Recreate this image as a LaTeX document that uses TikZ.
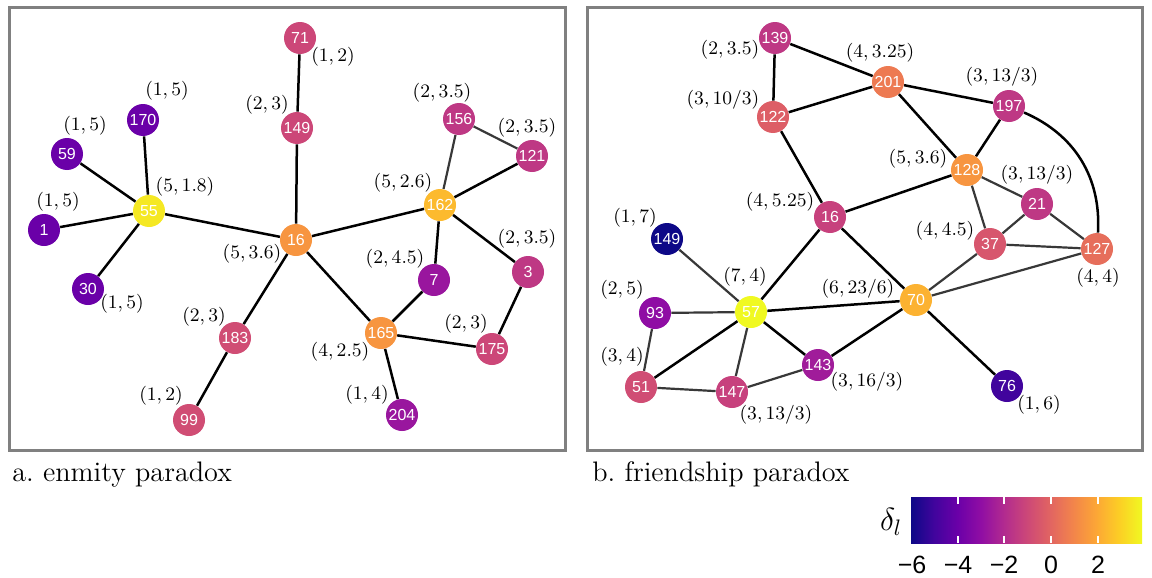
\RequirePackage{fix-cm}
\documentclass[tikz,border=0pt]{standalone}
\usepackage{fontspec}
\newfontfamily\numfont{Liberation Sans}

% plasma colour map, 11 stops
\definecolor{pla0}{HTML}{0D0887}
\definecolor{pla1}{HTML}{41049D}
\definecolor{pla2}{HTML}{6A00A8}
\definecolor{pla3}{HTML}{8F0DA4}
\definecolor{pla4}{HTML}{B12A90}
\definecolor{pla5}{HTML}{CC4778}
\definecolor{pla6}{HTML}{E16462}
\definecolor{pla7}{HTML}{F2844B}
\definecolor{pla8}{HTML}{FCA636}
\definecolor{pla9}{HTML}{FCCE25}
\definecolor{pla10}{HTML}{F0F921}
\pgfdeclarehorizontalshading{plasma}{100bp}{color(0bp)=(pla0); color(25bp)=(pla0);
  color(30bp)=(pla1); color(35bp)=(pla2); color(40bp)=(pla3); color(45bp)=(pla4);
  color(50bp)=(pla5); color(55bp)=(pla6); color(60bp)=(pla7); color(65bp)=(pla8);
  color(70bp)=(pla9); color(75bp)=(pla10); color(100bp)=(pla10)}

\begin{document}
\begin{tikzpicture}[
        x=0.5pt, y=-0.5pt,
        vertex/.style={
            circle,
            inner sep=0pt,
            minimum size=16pt,
            text=white,
            font=\numfont\fontsize{8}{9}\selectfont
        },
        coord/.style={inner sep=0pt, font=\fontsize{9.5}{11}\selectfont},
        link/.style={line width=1.25pt, black},
        weak/.style={line width=1.1pt, black!78},
        panel/.style={draw=black!50, line width=1.5pt},
        caption/.style={anchor=base west, inner sep=0pt, font=\fontsize{14.1}{16}\selectfont},
        ticklabel/.style={anchor=base, inner sep=0pt, font=\numfont\fontsize{12.5}{14}\selectfont}
    ]
        \useasboundingbox (0,0) rectangle (1152,578);

        % a. enmity paradox
        \draw[panel] (9,7) rectangle (565,450);
        \node[vertex, fill=pla5] (a71) at (300,38) {71};
        \node[vertex, fill=pla5] (a149) at (297,128) {149};
        \node[vertex, fill=pla2] (a170) at (143,120) {170};
        \node[vertex, fill=pla2] (a59) at (67,154) {59};
        \node[vertex, fill=pla2] (a1) at (44,230) {1};
        \node[vertex, fill=pla9!40!pla10] (a55) at (149,211) {55};
        \node[vertex, fill=pla2] (a30) at (88,289) {30};
        \node[vertex, fill=pla7!50!pla8] (a16) at (296,240) {16};
        \node[vertex, fill=pla5!80!pla6] (a183) at (235,338) {183};
        \node[vertex, fill=pla5!80!pla6] (a99) at (189,420) {99};
        \node[vertex, fill=pla4!50!pla5] (a156) at (459,119) {156};
        \node[vertex, fill=pla4!50!pla5] (a121) at (532,156) {121};
        \node[vertex, fill=pla8!50!pla9] (a162) at (440,205) {162};
        \node[vertex, fill=pla4!50!pla5] (a3) at (528,272) {3};
        \node[vertex, fill=pla3!70!pla4] (a7) at (434,280) {7};
        \node[vertex, fill=pla7!50!pla8] (a165) at (381,333) {165};
        \node[vertex, fill=pla5] (a175) at (492,349) {175};
        \node[vertex, fill=pla3!70!pla4] (a204) at (402,415) {204};

        \node[coord] (la170) at (167,91) {$(1,5)$};
        \node[coord] (la59) at (85,126) {$(1,5)$};
        \node[coord] (la1) at (58,202) {$(1,5)$};
        \node[coord] (la55) at (185,187) {$(5,1.8)$};
        \node[coord] (la149) at (267,105) {$(2,3)$};
        \node[coord] (la71) at (333,57) {$(1,2)$};
        \node[coord] (la156) at (442,93) {$(2,3.5)$};
        \node[coord] (la121) at (527,128) {$(2,3.5)$};
        \node[coord] (la162) at (403,183) {$(5,2.6)$};
        \node[coord] (la16) at (252,254) {$(5,3.6)$};
        \node[coord] (la30) at (122,304) {$(1,5)$};
        \node[coord] (la183) at (204,317) {$(2,3)$};
        \node[coord] (la99) at (161,396) {$(1,2)$};
        \node[coord] (la3) at (527,239) {$(2,3.5)$};
        \node[coord] (la7) at (395,259) {$(2,4.5)$};
        \node[coord] (la165) at (340,352) {$(4,2.5)$};
        \node[coord] (la175) at (466,324) {$(2,3)$};
        \node[coord] (la204) at (367,395) {$(1,4)$};

        \draw[link] (a55) -- (a170);
        \draw[link] (a55) -- (a59);
        \draw[link] (a55) -- (a1);
        \draw[link] (a55) -- (a30);
        \draw[link] (a55) -- (a16);
        \draw[link] (a16) -- (a149);
        \draw[link] (a149) -- (a71);
        \draw[link] (a16) -- (a183);
        \draw[link] (a183) -- (a99);
        \draw[link] (a16) -- (a162);
        \draw[link] (a16) -- (a165);
        \draw[weak] (a162) -- (a156);
        \draw[weak] (a156) -- (a121);
        \draw[link] (a162) -- (a121);
        \draw[link] (a162) -- (a7);
        \draw[link] (a162) -- (a3);
        \draw[link] (a7) -- (a165);
        \draw[link] (a3) -- (a175);
        \draw[link] (a165) -- (a175);
        \draw[link] (a165) -- (a204);

        \node[caption] (capa) at (12,481) {a.\ enmity paradox};

        % b. friendship paradox
        \draw[panel] (587,7) rectangle (1142,450);
        \node[vertex, fill=pla4!50!pla5] (b139) at (775,38) {139};
        \node[vertex, fill=pla5!20!pla6] (b122) at (773,117) {122};
        \node[vertex, fill=pla6!30!pla7] (b201) at (888,82) {201};
        \node[vertex, fill=pla4!50!pla5] (b197) at (1009,106) {197};
        \node[vertex, fill=pla7!50!pla8] (b128) at (967,170) {128};
        \node[vertex, fill=pla4!50!pla5] (b21) at (1037,204) {21};
        \node[vertex, fill=pla5!50!pla6] (b37) at (990,244) {37};
        \node[vertex, fill=pla6!70!pla7] (b127) at (1097,249) {127};
        \node[vertex, fill=pla4!20!pla5] (b16) at (830,217) {16};
        \node[vertex, fill=pla0] (b149) at (667,239) {149};
        \node[vertex, fill=pla10] (b57) at (751,312) {57};
        \node[vertex, fill=pla8!70!pla9] (b70) at (916,300) {70};
        \node[vertex, fill=pla3] (b93) at (655,313) {93};
        \node[vertex, fill=pla5!80!pla6] (b51) at (641,387) {51};
        \node[vertex, fill=pla4!20!pla5] (b147) at (732,392) {147};
        \node[vertex, fill=pla3!50!pla4] (b143) at (818,365) {143};
        \node[vertex, fill=pla1] (b76) at (1007,386) {76};

        \node[coord] (lb139) at (730,50) {$(2,3.5)$};
        \node[coord] (lb122) at (723,100) {$(3,10/3)$};
        \node[coord] (lb201) at (880,53) {$(4,3.25)$};
        \node[coord] (lb197) at (1002,77) {$(3,13/3)$};
        \node[coord] (lb128) at (918,159) {$(5,3.6)$};
        \node[coord] (lb21) at (1037,175) {$(3,13/3)$};
        \node[coord] (lb37) at (945,231) {$(4,4.5)$};
        \node[coord] (lb127) at (1098,278) {$(4,4)$};
        \node[coord] (lb16) at (780,202) {$(4,5.25)$};
        \node[coord] (lb149) at (635,218) {$(1,7)$};
        \node[coord] (lb57) at (745,277) {$(7,4)$};
        \node[coord] (lb70) at (858,289) {$(6,23/6)$};
        \node[coord] (lb93) at (622,290) {$(2,5)$};
        \node[coord] (lb51) at (622,357) {$(3,4)$};
        \node[coord] (lb147) at (776,415) {$(3,13/3)$};
        \node[coord] (lb143) at (867,382) {$(3,16/3)$};
        \node[coord] (lb76) at (1039,405) {$(1,6)$};

        \draw[link] (b139) -- (b122);
        \draw[link] (b139) -- (b201);
        \draw[link] (b122) -- (b201);
        \draw[link] (b122) -- (b16);
        \draw[link] (b201) -- (b197);
        \draw[link] (b201) -- (b128);
        \draw[link] (b197) -- (b128);
        \draw[link] (b197) to[bend left=35] (b127);
        \draw[link] (b16) -- (b128);
        \draw[link] (b16) -- (b57);
        \draw[link] (b16) -- (b70);
        \draw[weak] (b128) -- (b37);
        \draw[weak] (b128) -- (b21);
        \draw[weak] (b21) -- (b37);
        \draw[weak] (b21) -- (b127);
        \draw[weak] (b37) -- (b127);
        \draw[weak] (b37) -- (b70);
        \draw[weak] (b70) -- (b127);
        \draw[link] (b57) -- (b70);
        \draw[weak] (b57) -- (b149);
        \draw[weak] (b57) -- (b93);
        \draw[link] (b57) -- (b51);
        \draw[weak] (b57) -- (b147);
        \draw[link] (b57) -- (b143);
        \draw[weak] (b93) -- (b51);
        \draw[weak] (b51) -- (b147);
        \draw[weak] (b147) -- (b143);
        \draw[link] (b143) -- (b70);
        \draw[link] (b70) -- (b76);

        \node[caption] (capb) at (592,481) {b.\ friendship paradox};

        % colour bar
        \shade[shading=plasma] (911,497) rectangle (1142,543);
        \foreach \tx in {958,1004,1051,1098} {
            \draw[white, line width=0.6pt] (\tx,497) -- (\tx,504);
            \draw[white, line width=0.6pt] (\tx,536) -- (\tx,543);
        }
        \node[inner sep=0pt, font=\fontsize{16}{18}\selectfont] (delta) at (891,522) {$\delta_l$};
        \node[ticklabel] (t6) at (912,573) {−6};
        \node[ticklabel] (t4) at (958,573) {−4};
        \node[ticklabel] (t2) at (1004,573) {−2};
        \node[ticklabel] (t0) at (1051,573) {0};
        \node[ticklabel] (tp2) at (1098,573) {2};
    \end{tikzpicture}
\end{document}
